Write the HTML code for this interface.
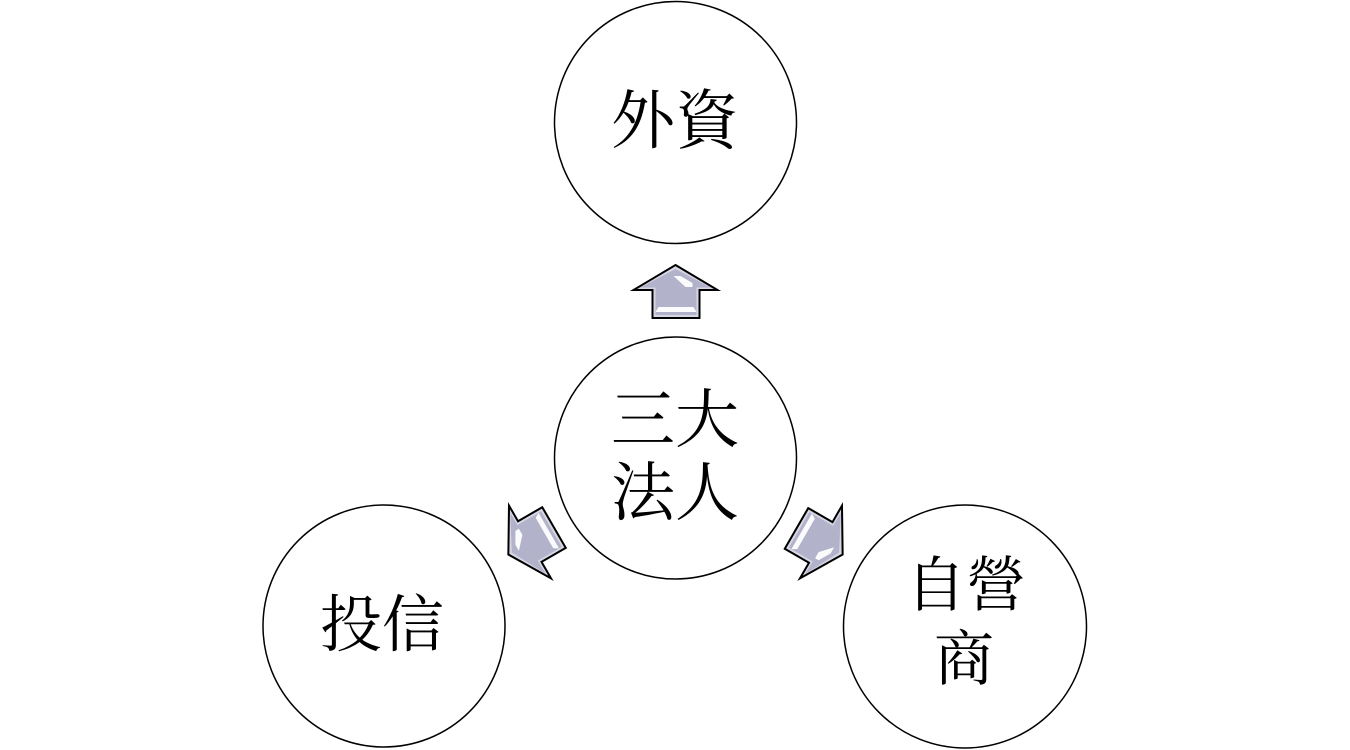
<!DOCTYPE html>
<html>
<head>
<meta charset="utf-8">
<style>
  html,body{margin:0;padding:0;background:#fff;}
  svg{display:block;}
  text{font-family:"Liberation Serif","Noto Serif CJK SC","Noto Sans CJK TC",serif;fill:#000;}
</style>
</head>
<body>
<svg width="1350" height="750" viewBox="0 0 1350 750" xmlns="http://www.w3.org/2000/svg">
  <defs>
    <g id="arrow">
      <path d="M0,-193 L42,-168 L24,-168 L24,-140 L-23,-140 L-23,-168 L-42,-168 Z" fill="#d6d6e4" stroke="#000" stroke-width="2" stroke-linejoin="miter"/>
      <path d="M0,-189 L35,-170.5 L21,-170.5 L21,-143 L-20,-143 L-20,-170.5 L-35,-170.5 Z" fill="#b2b2ca"/>
      <path d="M-2,-182 L5,-182 L17,-175 L17,-171 L10,-171 Z" fill="#ffffff" opacity="0.95"/>
      <path d="M-17,-151 L18,-151 L21,-146 L-20,-146 Z" fill="#ffffff" opacity="0.95"/>
    </g>
  </defs>

  <!-- circles -->
  <circle cx="675.5" cy="122.5" r="121" fill="#fff" stroke="#000" stroke-width="1.5"/>
  <circle cx="675.5" cy="458" r="121" fill="#fff" stroke="#000" stroke-width="1.5"/>
  <circle cx="384" cy="626" r="121" fill="#fff" stroke="#000" stroke-width="1.5"/>
  <circle cx="965" cy="626.5" r="121.5" fill="#fff" stroke="#000" stroke-width="1.5"/>

  <!-- arrows -->
  <g transform="translate(675.5,458)">
    <use href="#arrow"/>
    <use href="#arrow" transform="rotate(-120)"/>
    <use href="#arrow" transform="rotate(120)"/>
  </g>

  <!-- labels -->
  <text x="675" y="143" font-size="64" text-anchor="middle">外資</text>
  <text x="675" y="442" font-size="64" text-anchor="middle">三大</text>
  <text x="675" y="515" font-size="64" text-anchor="middle">法人</text>
  <text x="382" y="646" font-size="62" text-anchor="middle">投信</text>
  <text x="966" y="606" font-size="60" text-anchor="middle">自營</text>
  <text x="964" y="680" font-size="60" text-anchor="middle">商</text>
</svg>
</body>
</html>
